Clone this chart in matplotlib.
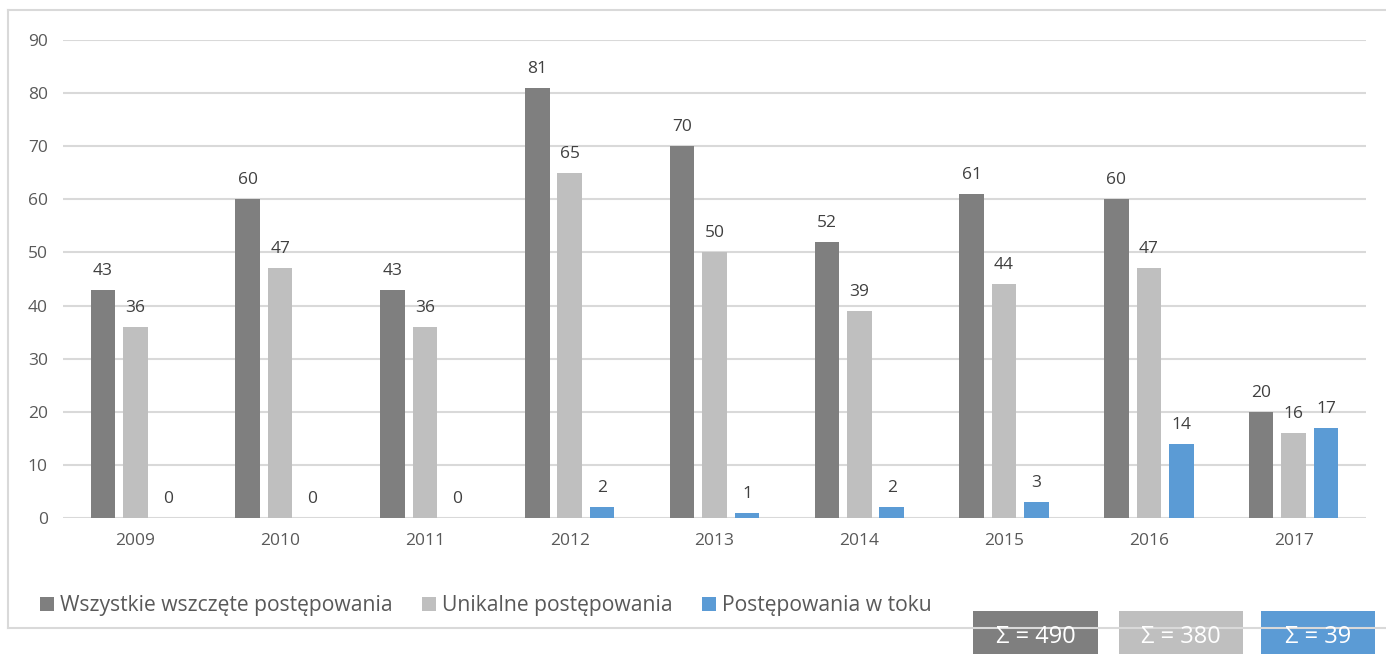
import matplotlib
matplotlib.use("Agg")
import matplotlib.pyplot as plt
import numpy as np
from matplotlib.patches import Patch, Rectangle
from matplotlib.lines import Line2D

plt.rcParams['font.family'] = ['Open Sans', 'DejaVu Sans']

years = ['2009', '2010', '2011', '2012', '2013', '2014', '2015', '2016', '2017']
wszystkie = [43, 60, 43, 81, 70, 52, 61, 60, 20]
unikalne = [36, 47, 36, 65, 50, 39, 44, 47, 16]
w_toku = [0, 0, 0, 2, 1, 2, 3, 14, 17]
series_names = ['Wszystkie wszczęte postępowania', 'Unikalne postępowania', 'Postępowania w toku']
sum_labels = ['Σ = 490', 'Σ = 380', 'Σ = 39']
colors = ['#7f7f7f', '#bfbfbf', '#5b9bd5']

W, H = 1386, 654
fig = plt.figure(figsize=(W / 100, H / 100), dpi=100)
ax = fig.add_axes([63 / W, 1 - 518 / H, (1366 - 63) / W, (518 - 40) / H])

x = np.arange(len(years))
bw = 0.17
step = 0.224
for i, (vals, c) in enumerate(zip([wszystkie, unikalne, w_toku], colors)):
    pos = x + (i - 1) * step
    ax.bar(pos, vals, width=bw, color=c, zorder=3)
    for p, v in zip(pos, vals):
        ax.annotate(str(v), (p, v), xytext=(0, 10.8), textcoords='offset points',
                    ha='center', va='baseline', fontsize=12.5, color='#404040')

ax.set_xlim(-0.5, len(years) - 0.5)
ax.set_ylim(0, 90)
ax.set_yticks(range(0, 91, 10))
ax.set_xticks(x)
ax.set_xticklabels(years)
ax.tick_params(axis='both', length=0, labelsize=12.5, labelcolor='#595959')
ax.tick_params(axis='y', pad=11)
ax.tick_params(axis='x', pad=11)
ax.grid(axis='y', color='#d9d9d9', linewidth=1.5, zorder=0)
for s in ax.spines.values():
    s.set_visible(False)

# chart border
bc = '#d9d9d9'
fig.add_artist(Line2D([8 / W, 8 / W], [1 - 10 / H, 1 - 628 / H], color=bc, lw=1.5))
fig.add_artist(Line2D([8 / W, 1], [1 - 10 / H, 1 - 10 / H], color=bc, lw=1.5))
fig.add_artist(Line2D([8 / W, 1], [1 - 628 / H, 1 - 628 / H], color=bc, lw=1.5))

handles = [Patch(facecolor=c, edgecolor='none') for c in colors]
fig.legend(handles, series_names, loc='center left', bbox_to_anchor=(40 / W, 1 - 606 / H),
           ncol=3, frameon=False, fontsize=15.2, labelcolor='#595959',
           handlelength=0.66, handleheight=0.66, handletextpad=0.3,
           columnspacing=1.38, borderpad=0, borderaxespad=0)

# sum boxes
boxes = [(973, 1098), (1119, 1243), (1261, 1375)]
for (x0, x1), lab, c in zip(boxes, sum_labels, colors):
    fig.add_artist(Rectangle((x0 / W, -0.05), (x1 - x0) / W, 1 - 611 / H + 0.05,
                             transform=fig.transFigure, facecolor=c, edgecolor='none'))
    fig.text((x0 + x1) / 2 / W, 1 - 637 / H, lab, ha='center', va='center',
             fontsize=17, color='white')

fig.savefig('out.png', dpi=100)
